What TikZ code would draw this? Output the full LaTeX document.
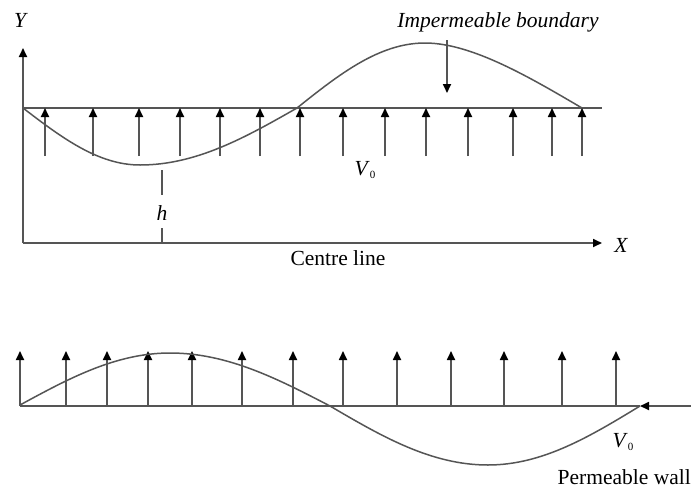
\documentclass[tikz,border=0pt]{standalone}
\usepackage{fontspec}
\setmainfont{Liberation Serif}
\usetikzlibrary{arrows.meta}
\definecolor{ln}{HTML}{555555}
\tikzset{
  wallline/.style={draw=ln, line width=1.6pt},
  flowarrow/.style={draw=ln, line width=1.7pt, -{Triangle[length=9pt,width=8pt,color=black]}},
  curveline/.style={draw=ln, line width=1.5pt},
  lbl/.style={inner sep=0pt, font=\fontsize{21.5}{25}\selectfont, text=black},
  ilbl/.style={lbl, font=\fontsize{21.5}{25}\selectfont\itshape}
}
\begin{document}
\begin{tikzpicture}[x=1pt,y=-1pt]
\useasboundingbox (0,0) rectangle (691,488);
\fill[white] (0,0) rectangle (691,488);
% ---------- top panel ----------
\coordinate (O) at (23,243);
\coordinate (Ytip) at (23,48);
\coordinate (Xtip) at (602,243);
\draw[flowarrow] (O) -- (Ytip);
\draw[flowarrow] (O) -- (Xtip);
\coordinate (wallL) at (23,108);
\coordinate (wallR) at (602,108);
\draw[wallline] (wallL) -- (wallR);
\foreach \x in {45,93,139,180,220,260,300,343,385,426,468,513,552,582}{
  \draw[flowarrow] (\x,156) -- (\x,108);
}
\draw[curveline] (23,108) .. controls (61.1,137.2) and (97.9,165) .. (140,165)
  .. controls (196.5,165) and (245.8,137.2) .. (297,108)
  .. controls (338.7,74.7) and (378.9,43) .. (425,43)
  .. controls (472,43) and (530.8,78) .. (582,108);
\node[ilbl] (ylab) at (20,20) {Y};
\node[ilbl] (xlab) at (621,245) {X};
\node[ilbl] (imp) at (498,22) {Impermeable boundary};
\coordinate (impS) at (447,40);
\coordinate (impE) at (447,93);
\draw[flowarrow] (impS) -- (impE);
\node[lbl] (v0a) at (365,170) {\textit{V}\raisebox{-0.35ex}{\fontsize{11}{12}\selectfont 0}};
\node[ilbl] (hlab) at (162,213) {h};
\coordinate (hT) at (162,170);
\coordinate (hB) at (162,243);
\draw[draw=ln, line width=1.5pt] (hT) -- (hlab.north |- 0,195);
\draw[draw=ln, line width=1.5pt] (hlab.south |- 0,228) -- (hB);
\node[lbl] (cl) at (338,258) {Centre line};
% ---------- bottom panel ----------
\coordinate (bwL) at (20,406);
\coordinate (bwR) at (640,406);
\draw[wallline] (bwL) -- (bwR);
\foreach \x in {20,66,107,148,192,242,293,343,397,451,504,562,616}{
  \draw[flowarrow] (\x,406) -- (\x,351);
}
\draw[curveline] (20,405) .. controls (68.9,378.4) and (116,353) .. (170,353)
  .. controls (227.6,353) and (277.8,378.9) .. (330,406)
  .. controls (381.5,436.2) and (431,465) .. (488,465)
  .. controls (542.7,465) and (590.4,436.2) .. (640,406);
\coordinate (rwE) at (691,406);
\draw[flowarrow] (rwE) -- (bwR);
\node[lbl] (v0b) at (623,442) {\textit{V}\raisebox{-0.35ex}{\fontsize{11}{12}\selectfont 0}};
\node[lbl, anchor=east] (pw) at (691,477) {Permeable wall};
\end{tikzpicture}
\end{document}
